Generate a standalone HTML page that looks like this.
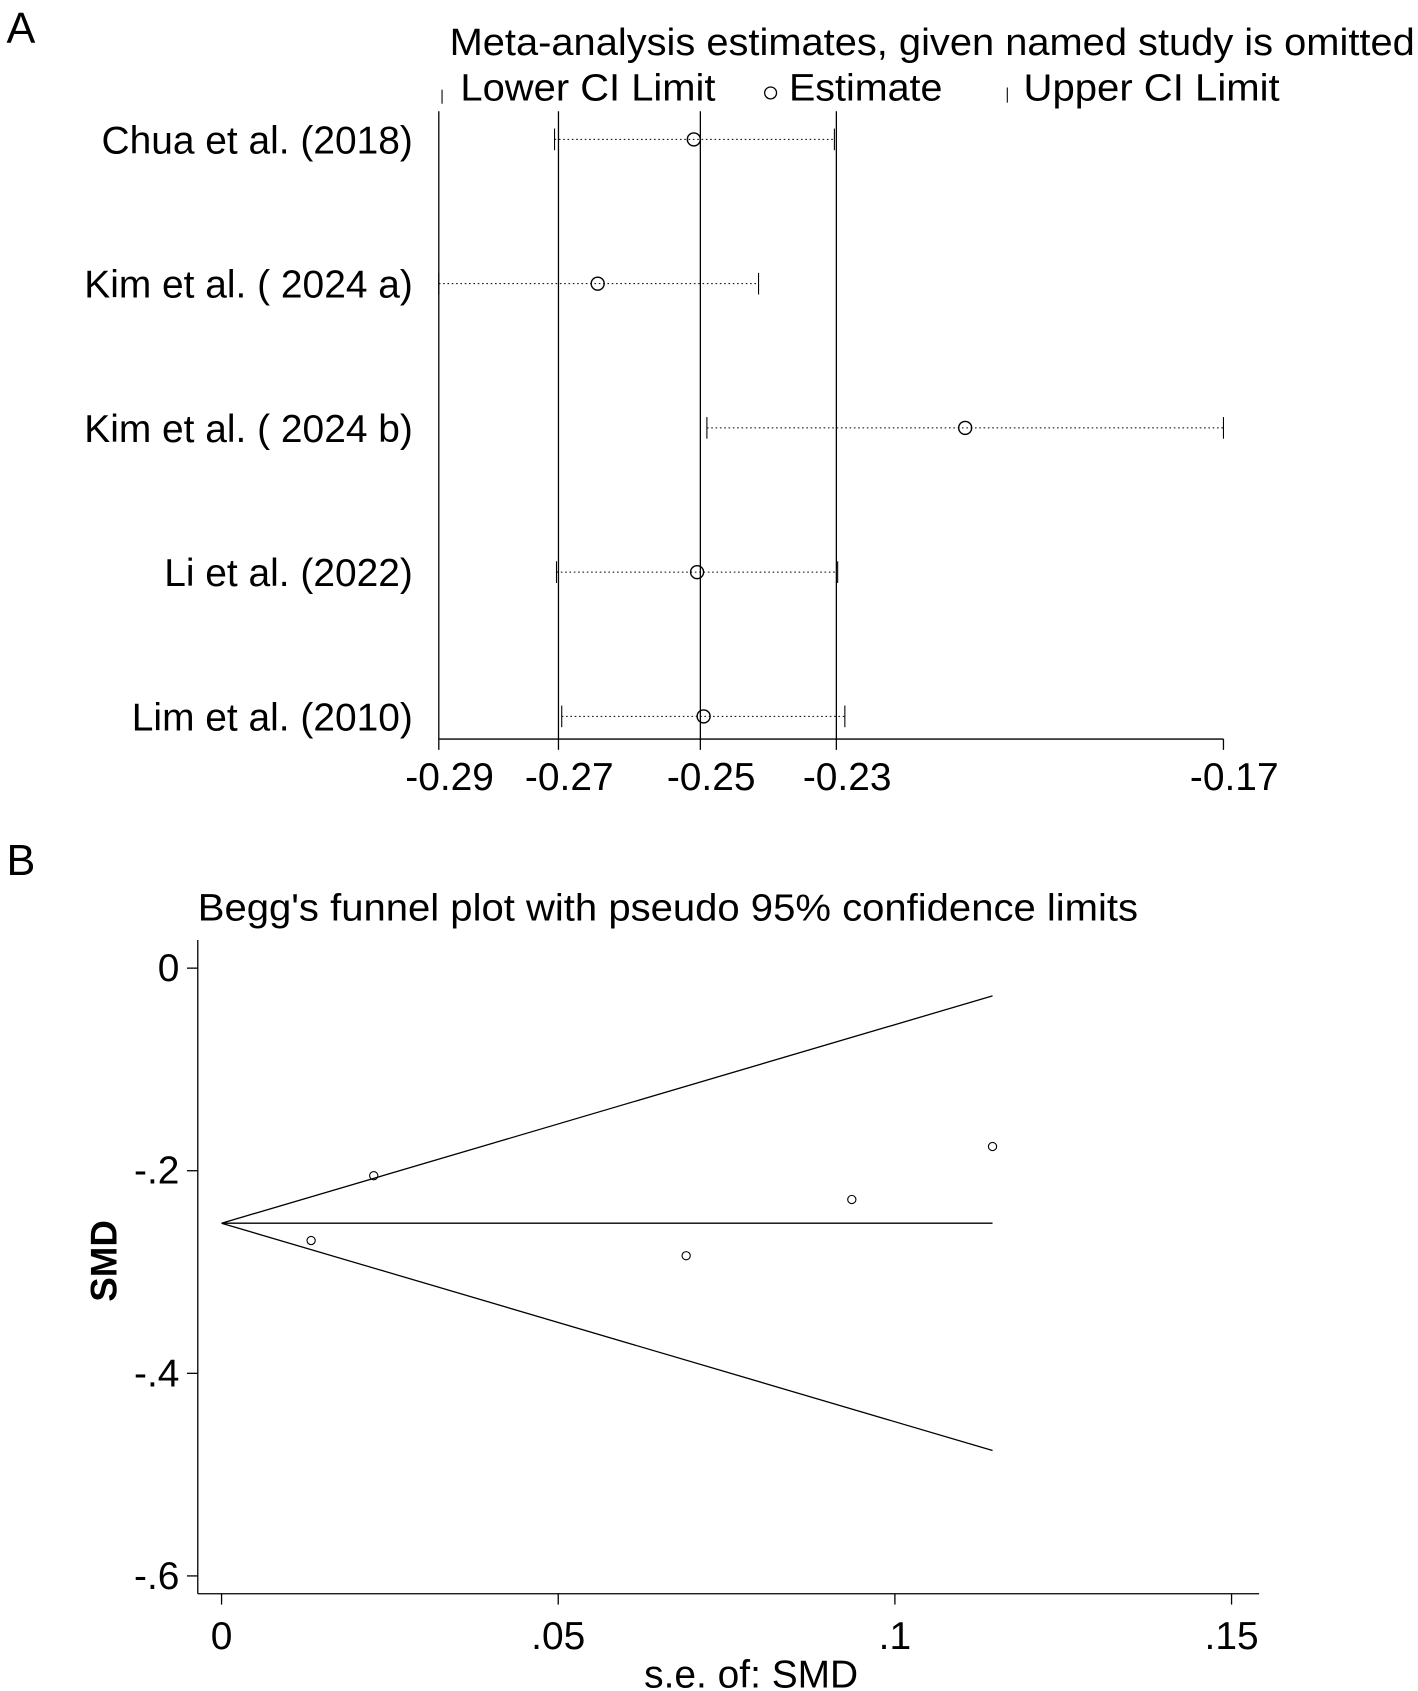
<!DOCTYPE html>
<html><head><meta charset="utf-8"><style>
html,body{margin:0;padding:0;background:#fff;}
svg{display:block;font-family:"Liberation Sans",Arial,sans-serif;}
</style></head><body>
<svg id="fig" width="1418" height="1691" viewBox="0 0 1312 1565" preserveAspectRatio="none" xmlns="http://www.w3.org/2000/svg">
<rect width="1312" height="1565" fill="#fff"/>
<g id="panelA"></g>
<g id="panelB"></g>
</svg>
<script>
// Panel A data
const studies = ["Chua et al. (2018)","Kim et al. ( 2024 a)","Kim et al. ( 2024 b)","Li et al. (2022)","Lim et al. (2010)"];
const lowerCI = [-0.2723,-0.2900,-0.2490,-0.2720,-0.2712];
const estimate = [-0.2510,-0.2657,-0.2095,-0.2505,-0.2495];
const upperCI = [-0.2295,-0.2411,-0.1700,-0.2290,-0.2279];
const aTickValues = [-0.29,-0.2717,-0.25,-0.2292,-0.17];
const aTickLabels = ["-0.29","-0.27","-0.25","-0.23","-0.17"];
const aRefLines = [-0.2717,-0.25,-0.2292];
// Panel B data
const seSMD = [0.0226,0.0133,0.0690,0.0936,0.1145];
const smd = [-0.2049,-0.2689,-0.2839,-0.2284,-0.1761];
const pooled = [-0.2518];
const funnelMaxSE = [0.1145];
const bXTicks = [0,0.05,0.1,0.15];
const bXLabels = ["0",".05",".1",".15"];
const bYTicks = [0,-0.2,-0.4,-0.6];
const bYLabels = ["0","-.2","-.4","-.6"];

const NS="http://www.w3.org/2000/svg";
function mk(parent,tag,attrs,text){const e=document.createElementNS(NS,tag);for(const k in attrs)e.setAttribute(k,attrs[k]);if(text!==undefined)e.textContent=text;parent.appendChild(e);return e;}
const FS=36;
// ---- Panel A
const A=document.getElementById('panelA');
const ax=v=>648+(v+0.25)*6050;
const rowY=i=>129+i*133.5;
let t;
t=mk(A,'text',{x:6,y:40,'font-size':40});t.textContent='A';


t=mk(A,'text',{x:416,y:51,'font-size':35,textLength:893,lengthAdjust:'spacingAndGlyphs'},'Meta-analysis estimates, given named study is omitted');


const lg=mk(A,'g',{});


mk(lg,'line',{x1:409,x2:409,y1:83,y2:96,stroke:'#000','stroke-width':1});
mk(lg,'text',{x:426,y:93,'font-size':35,textLength:236,lengthAdjust:'spacingAndGlyphs'},'Lower CI Limit');
mk(lg,'circle',{cx:713,cy:86,r:5.5,fill:'none',stroke:'#000','stroke-width':1.2});
mk(lg,'text',{x:730,y:93,'font-size':35,textLength:142,lengthAdjust:'spacingAndGlyphs'},'Estimate');
mk(lg,'line',{x1:932,x2:932,y1:81,y2:95,stroke:'#000','stroke-width':1});
mk(lg,'text',{x:947,y:93,'font-size':35,textLength:237,lengthAdjust:'spacingAndGlyphs'},'Upper CI Limit');
mk(A,'line',{x1:406,x2:406,y1:103,y2:684,stroke:'#000','stroke-width':1.2});
mk(A,'line',{x1:406,x2:1132,y1:684,y2:684,stroke:'#000','stroke-width':1.2});
aRefLines.forEach(v=>{const l=mk(A,'line',{x1:ax(v),x2:ax(v),y1:103,y2:684,stroke:'#000','stroke-width':1.2});

});
aTickValues.forEach((v,i)=>{mk(A,'line',{x1:ax(v),x2:ax(v),y1:684,y2:694,stroke:'#000','stroke-width':1.2});
const tl=mk(A,'text',{x:ax(v)+10,y:731,'font-size':FS,'text-anchor':'middle'},aTickLabels[i]);

});
studies.forEach((s,i)=>{const y=rowY(i);
const lb=mk(A,'text',{x:382,y:y+13,'font-size':FS,'text-anchor':'end'},s);


const g=mk(A,'g',{});


mk(g,'line',{x1:ax(lowerCI[i]),x2:ax(upperCI[i]),y1:y,y2:y,stroke:'#000','stroke-width':1,'stroke-dasharray':'1.5,2.5'});
mk(g,'line',{x1:ax(lowerCI[i]),x2:ax(lowerCI[i]),y1:y-10,y2:y+10,stroke:'#000','stroke-width':1});
mk(g,'line',{x1:ax(upperCI[i]),x2:ax(upperCI[i]),y1:y-10,y2:y+10,stroke:'#000','stroke-width':1});
mk(g,'circle',{cx:ax(estimate[i]),cy:y,r:6,fill:'none',stroke:'#000','stroke-width':1.3});
});

// ---- Panel B
const B=document.getElementById('panelB');
const bx=v=>205+v*6230;
const by=v=>896-v*937.5;
t=mk(B,'text',{x:6,y:810,'font-size':40},'B');


t=mk(B,'text',{x:183,y:852,'font-size':35,textLength:870,lengthAdjust:'spacingAndGlyphs'},"Begg's funnel plot with pseudo 95% confidence limits");


mk(B,'line',{x1:183,x2:183,y1:870,y2:1475,stroke:'#000','stroke-width':1.2});
mk(B,'line',{x1:183,x2:1165,y1:1475,y2:1475,stroke:'#000','stroke-width':1.2});
bYTicks.forEach((v,i)=>{mk(B,'line',{x1:173,x2:183,y1:by(v),y2:by(v),stroke:'#000','stroke-width':1.2});
const tl=mk(B,'text',{x:166,y:by(v)+12,'font-size':FS,'text-anchor':'end'},bYLabels[i]);

});
bXTicks.forEach((v,i)=>{mk(B,'line',{x1:bx(v),x2:bx(v),y1:1475,y2:1485,stroke:'#000','stroke-width':1.2});
const tl=mk(B,'text',{x:bx(v),y:1526,'font-size':FS,'text-anchor':'middle'},bXLabels[i]);

});
t=mk(B,'text',{x:0,y:0,'font-size':34,'font-weight':'bold','text-anchor':'middle',transform:'translate(108,1167) rotate(-90)'},'SMD');


t=mk(B,'text',{x:695,y:1562,'font-size':FS,'text-anchor':'middle'},'s.e. of: SMD');


const m=pooled[0],se=funnelMaxSE[0];
let l;
l=mk(B,'line',{x1:bx(0),y1:by(m),x2:bx(se),y2:by(m+1.96*se),stroke:'#000','stroke-width':1.2});


l=mk(B,'line',{x1:bx(0),y1:by(m),x2:bx(se),y2:by(m-1.96*se),stroke:'#000','stroke-width':1.2});


l=mk(B,'line',{x1:bx(0),y1:by(m),x2:bx(se),y2:by(m),stroke:'#000','stroke-width':1.2});


seSMD.forEach((s,i)=>{const c=mk(B,'circle',{cx:bx(s),cy:by(smd[i]),r:3.8,fill:'none',stroke:'#000','stroke-width':1});

});
</script>
</body></html>
